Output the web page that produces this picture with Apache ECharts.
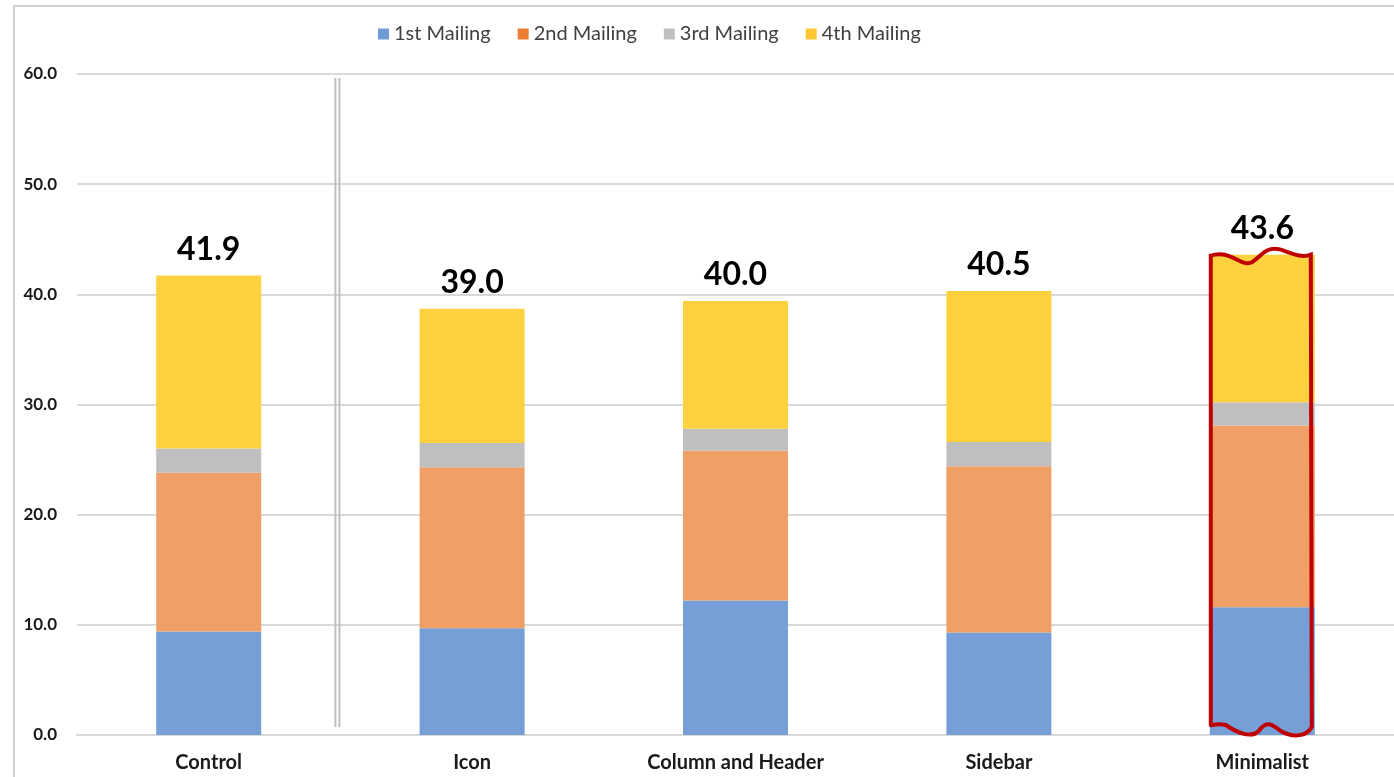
<!DOCTYPE html>
<html lang="en">

<head>
    <meta charset="UTF-8">
    <title>Mailing response by design</title>
    <style>
        body {
            margin: 0;
            background: #fff;
        }

        #chart {
            width: 1394px;
            height: 777px;
        }
    </style>
</head>

<body>
    <div id="chart"></div>
    <script src="https://cdn.jsdelivr.net/npm/echarts@6/dist/echarts.min.js"></script>
    <script>
        // values
        const categories = ['Control', 'Icon', 'Column and Header', 'Sidebar', 'Minimalist'];
        const mailing1 = [9.4, 9.7, 12.2, 9.3, 11.6];
        const mailing2 = [14.4, 14.6, 13.6, 15.1, 16.5];
        const mailing3 = [2.2, 2.2, 2.0, 2.2, 2.1];
        const mailing4 = [15.7, 12.2, 11.6, 13.7, 13.4];
        const totals = ['41.9', '39.0', '40.0', '40.5', '43.6'];
        const seriesNames = ['1st Mailing', '2nd Mailing', '3rd Mailing', '4th Mailing'];
        const highlightIndex = 4;

        const barColors = ['#759fd6', '#f0a066', '#bfbfbf', '#ffd13f'];
        const legendColors = ['#6f9bd6', '#ed7d31', '#bfbfbf', '#ffc832'];
        const BAR_W = 105;
        const FONT = 'Lato, "Open Sans", sans-serif';

        const chart = echarts.init(document.getElementById('chart'));

        const stacks = [mailing1, mailing2, mailing3, mailing4].map((vals, i) => ({
            name: seriesNames[i],
            type: 'bar',
            stack: 'total',
            barWidth: BAR_W,
            data: vals,
            itemStyle: { color: barColors[i] },
            label: i === 3 ? {
                show: true,
                position: 'top',
                distance: 10,
                formatter: p => totals[p.dataIndex],
                fontFamily: FONT,
                fontWeight: 'bold',
                fontSize: 32,
                color: '#000'
            } : { show: false }
        }));

        // double vertical divider between Control and Icon
        function renderDivider(params, api) {
            const a = api.coord([0, 0]);
            const b = api.coord([1, 0]);
            const top = api.coord([0, 60])[1] + 4;
            const bottom = a[1] - 8;
            const x = (a[0] + b[0]) / 2 - 3;
            const style = { stroke: '#bfbfbf', lineWidth: 2 };
            return {
                type: 'group',
                children: [
                    { type: 'line', shape: { x1: x - 2, y1: top, x2: x - 2, y2: bottom }, style },
                    { type: 'line', shape: { x1: x + 2, y1: top, x2: x + 2, y2: bottom }, style }
                ]
            };
        }

        // hand-drawn wavy red outline around the highlighted bar
        function renderOutline(params, api) {
            const t = api.coord([api.value(0), api.value(1)]);
            const b = api.coord([api.value(0), 0]);
            const l = t[0] - BAR_W / 2 + 1;
            const r = t[0] + BAR_W / 2 - 4;
            const w = r - l;
            const yt = t[1];
            const yb = b[1];
            const d = [
                'M', l, yt + 1,
                'C', l + w * 0.2, yt - 6, l + w * 0.3, yt + 14, l + w * 0.42, yt + 7,
                'C', l + w * 0.5, yt + 2, l + w * 0.55, yt - 9, l + w * 0.7, yt - 5,
                'C', l + w * 0.8, yt - 2, l + w * 0.9, yt + 4, r, yt,
                'L', r + 1, yb - 8,
                'C', r - w * 0.05, yb + 3, r - w * 0.2, yb + 2, r - w * 0.3, yb - 4,
                'C', r - w * 0.4, yb - 12, r - w * 0.45, yb - 14, r - w * 0.52, yb - 4,
                'C', r - w * 0.6, yb + 4, r - w * 0.75, yb - 3, l + w * 0.15, yb - 10,
                'C', l + w * 0.05, yb - 12, l, yb - 9, l, yb - 10,
                'Z'
            ].join(' ');
            return {
                type: 'path',
                shape: { pathData: d },
                style: { fill: 'none', stroke: '#c00000', lineWidth: 4 }
            };
        }

        const total = mailing1.map((v, i) => v + mailing2[i] + mailing3[i] + mailing4[i]);

        chart.setOption({
            animation: false,
            graphic: [{
                type: 'rect',
                shape: { x: 14, y: 6, width: 1400, height: 800 },
                style: { fill: 'none', stroke: '#d0d0d0', lineWidth: 2 },
                silent: true
            }],
            legend: {
                top: 19,
                left: 373,
                itemWidth: 11,
                itemHeight: 11,
                itemGap: 27,
                icon: 'rect',
                data: seriesNames.map((n, i) => ({ name: n, itemStyle: { color: legendColors[i] } })),
                textStyle: { fontFamily: FONT, fontSize: 20, color: '#404040' }
            },
            grid: { left: 77, right: -3, top: 74, bottom: 42 },
            xAxis: {
                type: 'category',
                data: categories,
                axisLine: { lineStyle: { color: '#d9d9d9', width: 2 } },
                axisTick: { show: false },
                axisLabel: {
                    fontFamily: FONT,
                    fontWeight: 'bold',
                    fontSize: 20,
                    color: '#1a1a1a',
                    margin: 18
                }
            },
            yAxis: {
                type: 'value',
                min: 0,
                max: 60,
                interval: 10,
                axisLine: { show: false },
                axisTick: { show: false },
                splitLine: { lineStyle: { color: '#d9d9d9', width: 2 } },
                axisLabel: {
                    formatter: v => v.toFixed(1),
                    fontFamily: FONT,
                    fontWeight: 'bold',
                    fontSize: 17,
                    color: '#1a1a1a',
                    margin: 20
                }
            },
            series: [
                ...stacks,
                {
                    type: 'custom',
                    name: 'divider',
                    renderItem: renderDivider,
                    data: [[0, 0]],
                    silent: true,
                    z: 5
                },
                {
                    type: 'custom',
                    name: 'highlight',
                    renderItem: renderOutline,
                    data: [[highlightIndex, total[highlightIndex]]],
                    silent: true,
                    z: 6
                }
            ]
        });
    </script>
</body>

</html>
